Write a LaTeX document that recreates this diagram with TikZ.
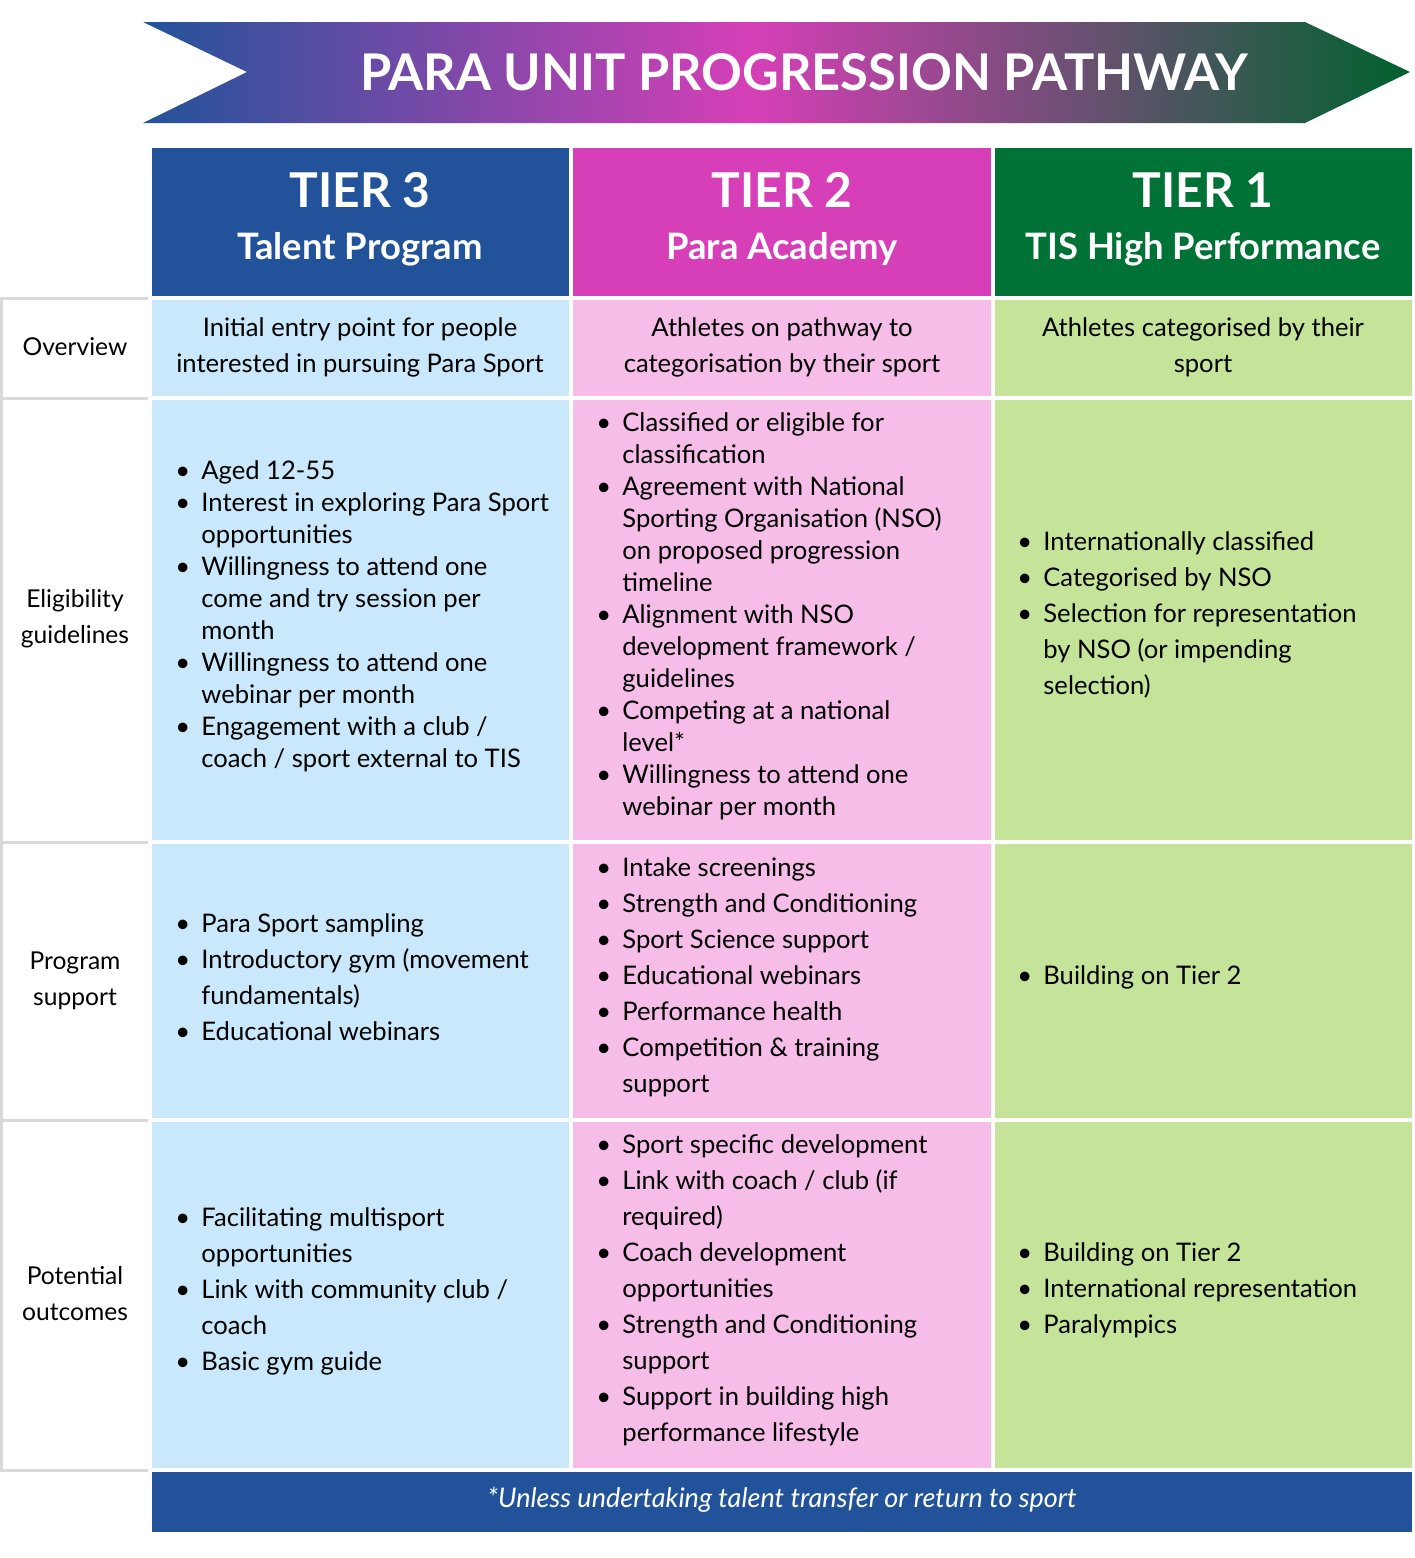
\documentclass[tikz,border=0pt]{standalone}
\usepackage{fontspec}
\setmainfont{Lato}
\definecolor{tthree}{HTML}{22539A}
\definecolor{ttwo}{HTML}{D63FB7}
\definecolor{tone}{HTML}{007236}
\definecolor{lthree}{HTML}{C9E8FB}
\definecolor{ltwo}{HTML}{F6BDE8}
\definecolor{lone}{HTML}{C5E49A}
\definecolor{gline}{HTML}{D9D9D9}
\pgfdeclarehorizontalshading{ban}{100bp}{color(0bp)=(tthree); color(25bp)=(tthree); color(49bp)=(ttwo); color(75bp)=(tone!85!black); color(100bp)=(tone!85!black)}
\newcommand\bu{\makebox[13pt][l]{\textbullet}}
\newcommand\ii{\hspace*{13pt}}
\tikzset{
 body/.style={anchor=west,inner sep=0pt,align=left,font=\fontsize{12.8}{16}\selectfont},
 bodyw/.style={body,font=\fontsize{12.8}{18}\selectfont},
 lab/.style={align=center,inner sep=0pt,font=\fontsize{12.3}{18}\selectfont},
 ttl/.style={align=center,text=white,font=\bfseries\fontsize{24}{28}\selectfont},
 sub/.style={align=center,text=white,font=\bfseries\fontsize{18.2}{20}\selectfont},
}
\begin{document}
\begin{tikzpicture}[x=0.5pt,y=-0.5pt]
\useasboundingbox (0,0) rectangle (1414,1558);
\shade[shading=ban] (143,22) -- (1305,22) -- (1410,72) -- (1305,123) -- (143,123) -- (247,72) -- cycle;
\node[text=white,font=\bfseries\fontsize{25.3}{28}\selectfont] (title) at (804,72) {PARA UNIT PROGRESSION PATHWAY};
% headers
\fill[tthree] (152,148) rectangle (569,296);
\fill[ttwo] (573,148) rectangle (991,296);
\fill[tone] (995,148) rectangle (1412,296);
\node[ttl] (t3) at (360,190) {TIER 3};
\node[sub] (s3) at (360,249) {Talent Program};
\node[ttl] (t2) at (782,190) {TIER 2};
\node[sub] (s2) at (782,249) {Para Academy};
\node[ttl] (t1) at (1203,190) {TIER 1};
\node[sub] (s1) at (1203,249) {TIS High Performance};
% body cells
\foreach \ya/\yb in {300/396,400/840,844/1118,1122/1468}{
 \fill[lthree] (152,\ya) rectangle (569,\yb);
 \fill[ltwo] (573,\ya) rectangle (991,\yb);
 \fill[lone] (995,\ya) rectangle (1412,\yb);
}
\fill[tthree] (152,1472) rectangle (1412,1532);
\node[text=white,font=\itshape\fontsize{13.5}{16}\selectfont] (foot) at (782,1500) {*Unless undertaking talent transfer or return to sport};
% label column
\draw[gline,line width=1.5pt] (0,298) -- (148,298) (0,398) -- (148,398) (0,842) -- (148,842) (0,1120) -- (148,1120) (0,1470) -- (148,1470) (1,298) -- (1,1470);
\node[lab] (l1) at (75,347) {Overview};
\node[lab] (l2) at (75,619) {Eligibility\\guidelines};
\node[lab] (l3) at (75,981) {Program\\support};
\node[lab] (l4) at (75,1294) {Potential\\outcomes};
% overview
\node[lab,font=\fontsize{12.8}{18}\selectfont] (o3) at (360,347) {Initial entry point for people\\interested in pursuing Para Sport};
\node[lab,font=\fontsize{12.8}{18}\selectfont] (o2) at (782,347) {Athletes on pathway to\\categorisation by their sport};
\node[lab,font=\fontsize{12.8}{18}\selectfont] (o1) at (1203,347) {Athletes categorised by their\\sport};
% eligibility
\node[body] (e3) at (175,616) {\bu Aged 12-55\\\bu Interest in exploring Para Sport\\\ii opportunities\\\bu Willingness to attend one\\\ii come and try session per\\\ii month\\\bu Willingness to attend one\\\ii webinar per month\\\bu Engagement with a club /\\\ii coach / sport external to TIS};
\node[body] (e2) at (596,616) {\bu Classified or eligible for\\\ii classification\\\bu Agreement with National\\\ii Sporting Organisation (NSO)\\\ii on proposed progression\\\ii timeline\\\bu Alignment with NSO\\\ii development framework /\\\ii guidelines\\\bu Competing at a national\\\ii level*\\\bu Willingness to attend one\\\ii webinar per month};
\node[bodyw] (e1) at (1017,615) {\bu Internationally classified\\\bu Categorised by NSO\\\bu Selection for representation\\\ii by NSO (or impending\\\ii selection)};
% program support
\node[bodyw] (p3) at (175,977) {\bu Para Sport sampling\\\bu Introductory gym (movement\\\ii fundamentals)\\\bu Educational webinars};
\node[bodyw] (p2) at (596,977) {\bu Intake screenings\\\bu Strength and Conditioning\\\bu Sport Science support\\\bu Educational webinars\\\bu Performance health\\\bu Competition \& training\\\ii support};
\node[bodyw] (p1) at (1017,977) {\bu Building on Tier 2};
% outcomes
\node[bodyw] (q3) at (175,1291) {\bu Facilitating multisport\\\ii opportunities\\\bu Link with community club /\\\ii coach\\\bu Basic gym guide};
\node[bodyw] (q2) at (596,1290) {\bu Sport specific development\\\bu Link with coach / club (if\\\ii required)\\\bu Coach development\\\ii opportunities\\\bu Strength and Conditioning\\\ii support\\\bu Support in building high\\\ii performance lifestyle};
\node[bodyw] (q1) at (1017,1290) {\bu Building on Tier 2\\\bu International representation\\\bu Paralympics};
\end{tikzpicture}
\end{document}
